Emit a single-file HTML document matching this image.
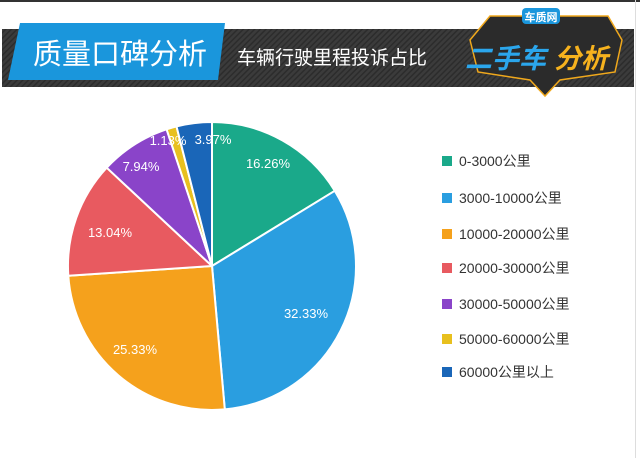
<!DOCTYPE html>
<html><head><meta charset="utf-8"><style>
html,body{margin:0;padding:0;background:#fff;}
body{width:640px;height:458px;overflow:hidden;position:relative;font-family:"Liberation Sans","Noto Sans CJK SC",sans-serif;}
</style></head><body>
<svg width="640" height="458" viewBox="0 0 640 458" xmlns="http://www.w3.org/2000/svg" style="position:absolute;left:0;top:0">
<defs>
<pattern id="st" width="4" height="4" patternUnits="userSpaceOnUse" patternTransform="rotate(45)">
<rect width="4" height="4" fill="#3b3b3b"/><rect width="1.5" height="4" fill="#2c2c2c"/>
</pattern>
</defs>
<rect x="0" y="0" width="640" height="2" fill="#333"/>
<rect x="635" y="0" width="1" height="458" fill="#ddd"/>
<rect x="2" y="29" width="632" height="58" fill="url(#st)"/>
<polygon points="20,23 225,23 218,80 8,80" fill="#1a96dc"/>
<text x="33" y="64" font-size="29" fill="#fff" font-family="Liberation Sans,Noto Sans CJK SC,sans-serif">质量口碑分析</text>
<text x="237" y="64" font-size="19" fill="#fff" font-family="Liberation Sans,Noto Sans CJK SC,sans-serif">车辆行驶里程投诉占比</text>
<polygon points="490,16 608,16 622,40 615,72 560,80 545,96 530,80 478,72 470,40" fill="#2b2b2b" stroke="#f0a81c" stroke-width="1.5"/>
<rect x="522" y="8" width="38" height="16" rx="4" fill="#1a96dc"/>
<text x="541" y="21" font-size="11" fill="#fff" text-anchor="middle" font-weight="bold" font-family="Liberation Sans,Noto Sans CJK SC,sans-serif">车质网</text>
<text x="465" y="68" font-size="27" fill="#2ba6ec" font-weight="bold" font-style="italic" font-family="Liberation Sans,Noto Sans CJK SC,sans-serif">二手车</text>
<text x="554" y="68" font-size="27" fill="#f6b21e" font-weight="bold" font-style="italic" font-family="Liberation Sans,Noto Sans CJK SC,sans-serif">分析</text>
<g stroke="#fff" stroke-width="2" stroke-linejoin="round">
<path d="M212,266 L212,122 A144,144 0 0,1 334.8,190.8 Z" fill="#1aa98a"/>
<path d="M212,266 L334.8,190.8 A144,144 0 0,1 224.8,409.4 Z" fill="#2a9ee0"/>
<path d="M212,266 L224.8,409.4 A144,144 0 0,1 68.3,275.8 Z" fill="#f5a11c"/>
<path d="M212,266 L68.3,275.8 A144,144 0 0,1 106.7,167.7 Z" fill="#e85a60"/>
<path d="M212,266 L106.7,167.7 A144,144 0 0,1 166.6,129.3 Z" fill="#8a44c9"/>
<path d="M212,266 L166.6,129.3 A144,144 0 0,1 176.5,126.4 Z" fill="#e8c01e"/>
<path d="M212,266 L176.5,126.4 A144,144 0 0,1 212,122 Z" fill="#1a66b8"/>
</g>
<g fill="#fff" font-size="13" text-anchor="middle" font-family="Liberation Sans,sans-serif">
<text x="268" y="168">16.26%</text>
<text x="306" y="318">32.33%</text>
<text x="135" y="354">25.33%</text>
<text x="110" y="237">13.04%</text>
<text x="141" y="171">7.94%</text>
<text x="168" y="145">1.13%</text>
<text x="213" y="144">3.97%</text>
</g>
<g font-size="14" fill="#333" font-family="Liberation Sans,Noto Sans CJK SC,sans-serif">
<rect x="442" y="156" width="10" height="10" fill="#1aa98a"/><text x="459" y="166">0-3000公里</text>
<rect x="442" y="193" width="10" height="10" fill="#2a9ee0"/><text x="459" y="203">3000-10000公里</text>
<rect x="442" y="229" width="10" height="10" fill="#f5a11c"/><text x="459" y="239">10000-20000公里</text>
<rect x="442" y="263" width="10" height="10" fill="#e85a60"/><text x="459" y="273">20000-30000公里</text>
<rect x="442" y="299" width="10" height="10" fill="#8a44c9"/><text x="459" y="309">30000-50000公里</text>
<rect x="442" y="334" width="10" height="10" fill="#e8c01e"/><text x="459" y="344">50000-60000公里</text>
<rect x="442" y="367" width="10" height="10" fill="#1a66b8"/><text x="459" y="377">60000公里以上</text>
</g>
</svg>
</body></html>
